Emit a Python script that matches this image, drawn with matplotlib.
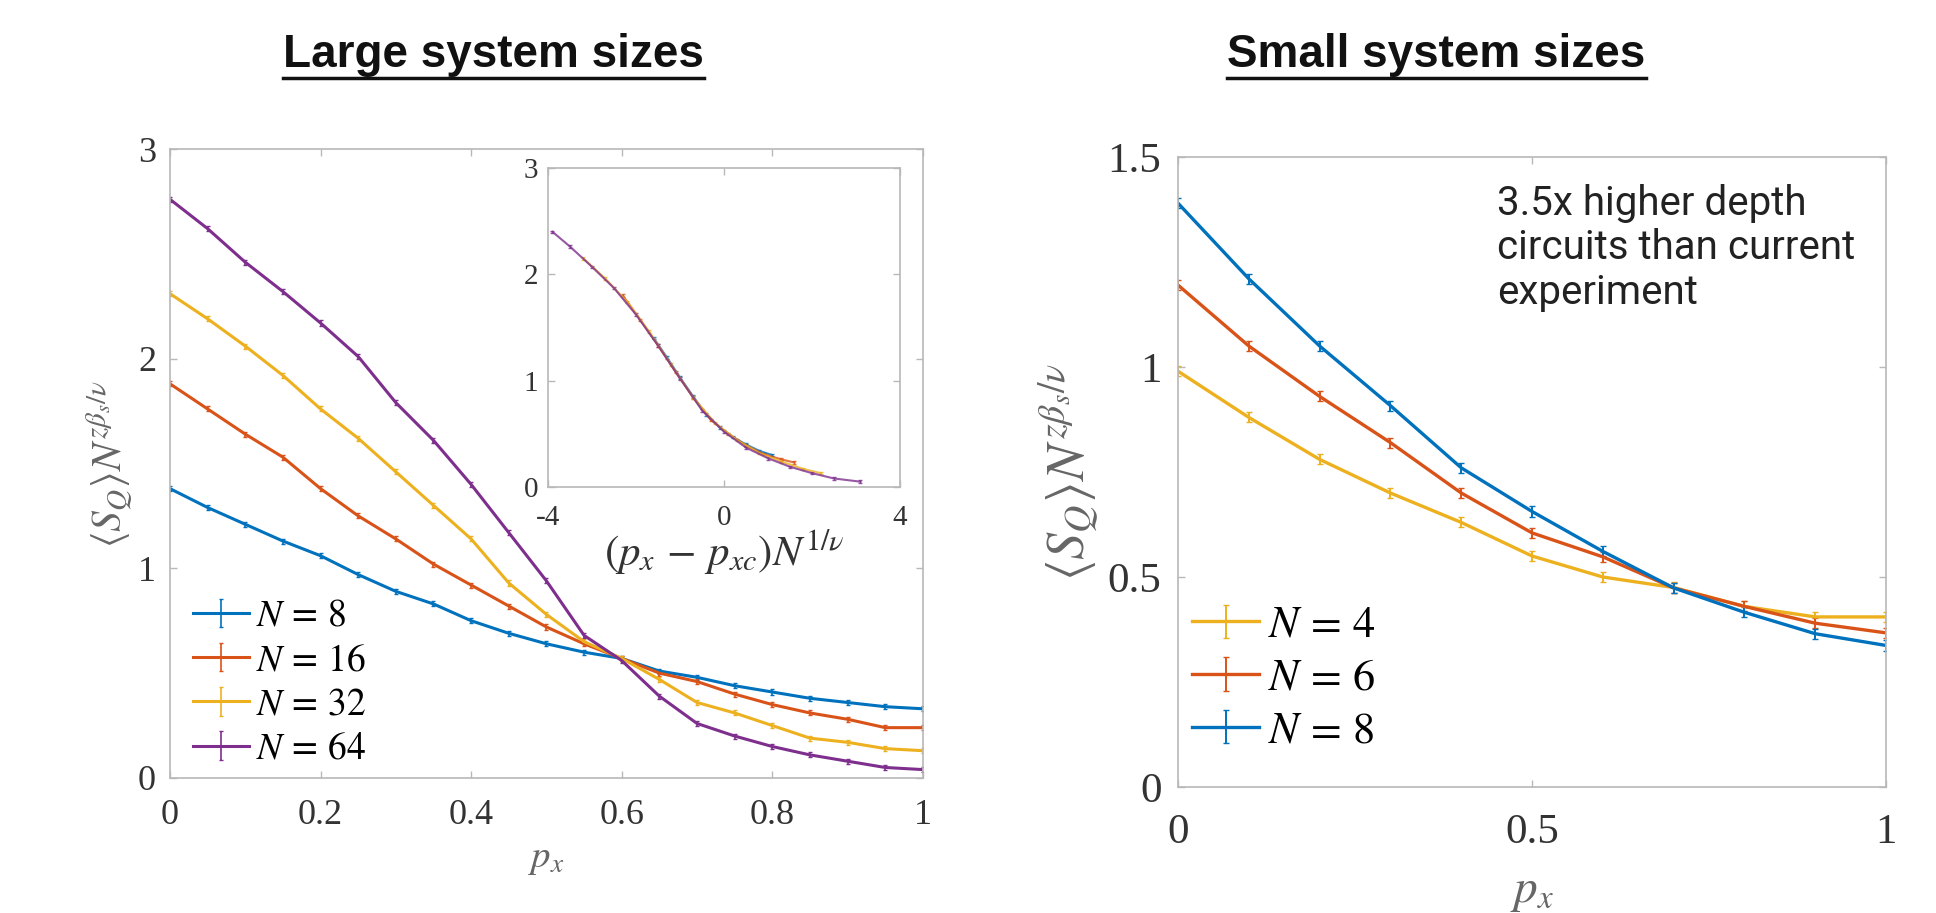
"""
Finite-size scaling of <S_Q> vs p_x: large and small system sizes
"""
import matplotlib
matplotlib.use('Agg')
import matplotlib.pyplot as plt
from matplotlib.lines import Line2D
from matplotlib.legend_handler import HandlerErrorbar
from matplotlib.container import ErrorbarContainer

plt.rcParams['font.family'] = ['Liberation Serif', 'DejaVu Serif']
plt.rcParams['mathtext.fontset'] = 'stix'
plt.rcParams['axes.unicode_minus'] = False

# MATLAB default colours
BLUE, RED, YELLOW, PURPLE = '#0072BD', '#D95319', '#EDB120', '#7E2F8E'
BOX = '#b8b8b8'
TXT = '#333333'

# ---- Large system sizes (p_x step 0.05) ----
PX_LARGE = [0.0, 0.05, 0.1, 0.15, 0.2, 0.25, 0.3, 0.35, 0.4, 0.45, 0.5,
            0.55, 0.6, 0.65, 0.7, 0.75, 0.8, 0.85, 0.9, 0.95, 1.0]
SQ_N8 = [1.38, 1.29, 1.21, 1.13, 1.06, 0.97, 0.89, 0.83, 0.75, 0.69, 0.64,
         0.60, 0.57, 0.51, 0.48, 0.44, 0.41, 0.38, 0.36, 0.34, 0.33]
SQ_N16 = [1.88, 1.76, 1.64, 1.53, 1.38, 1.25, 1.14, 1.02, 0.92, 0.82, 0.72,
          0.64, 0.57, 0.50, 0.46, 0.40, 0.35, 0.31, 0.28, 0.24, 0.24]
SQ_N32 = [2.31, 2.19, 2.06, 1.92, 1.76, 1.62, 1.46, 1.30, 1.14, 0.93, 0.78,
          0.65, 0.57, 0.47, 0.36, 0.31, 0.25, 0.19, 0.17, 0.14, 0.13]
SQ_N64 = [2.76, 2.62, 2.46, 2.32, 2.17, 2.01, 1.79, 1.61, 1.40, 1.17, 0.94,
          0.68, 0.56, 0.39, 0.26, 0.20, 0.15, 0.11, 0.08, 0.05, 0.04]
LARGE_LABELS = [r'$N\,=\,8$', r'$N\,=\,16$', r'$N\,=\,32$', r'$N\,=\,64$']

# ---- Inset: data collapse ----
INS_X_N8 = [-1.6, -1.3, -1.0, -0.7, -0.4, -0.1, 0.2, 0.5, 0.8, 1.1]
INS_Y_N8 = [1.40, 1.22, 1.03, 0.85, 0.68, 0.56, 0.47, 0.40, 0.34, 0.30]
INS_X_N16 = [-2.3, -1.9, -1.5, -1.1, -0.7, -0.3, 0.1, 0.5, 0.9, 1.3, 1.6]
INS_Y_N16 = [1.80, 1.57, 1.33, 1.08, 0.84, 0.63, 0.50, 0.39, 0.31, 0.26, 0.23]
INS_X_N32 = [-3.2, -2.7, -2.2, -1.7, -1.2, -0.7, -0.2, 0.3, 0.8, 1.3, 1.8, 2.2]
INS_Y_N32 = [2.15, 1.96, 1.74, 1.46, 1.15, 0.84, 0.60, 0.44, 0.32, 0.24, 0.17, 0.13]
INS_X_N64 = [-3.9, -3.5, -3.0, -2.5, -2.0, -1.5, -1.0, -0.5, 0.0, 0.5, 1.0,
             1.5, 2.0, 2.5, 3.1]
INS_Y_N64 = [2.40, 2.26, 2.07, 1.87, 1.62, 1.33, 1.02, 0.72, 0.52, 0.37, 0.27,
             0.19, 0.13, 0.08, 0.05]

# ---- Small system sizes (p_x step 0.1) ----
PX_SMALL = [0.0, 0.1, 0.2, 0.3, 0.4, 0.5, 0.6, 0.7, 0.8, 0.9, 1.0]
SQ_N4 = [0.99, 0.88, 0.78, 0.70, 0.63, 0.55, 0.50, 0.475, 0.43, 0.405, 0.405]
SQ_N6 = [1.195, 1.05, 0.93, 0.82, 0.70, 0.605, 0.548, 0.474, 0.43, 0.39, 0.367]
SQ_N8S = [1.39, 1.21, 1.05, 0.908, 0.76, 0.656, 0.561, 0.474, 0.416, 0.365, 0.337]
SMALL_LABELS = [r'$N\,=\,4$', r'$N\,=\,6$', r'$N\,=\,8$']

ERR = 0.012  # tiny error bars

YLABEL = r'$\langle S_Q\rangle N^{z\beta_s/\nu}$'
ERR_HANDLER = {ErrorbarContainer: HandlerErrorbar(xerr_size=0.5, yerr_size=0.38)}


def style_axes(ax, size, xpad, ypad):
    for s in ax.spines.values():
        s.set_color(BOX)
        s.set_linewidth(1.2)
    ax.tick_params(direction='in', top=True, right=True, length=5, width=1,
                   color=BOX, labelsize=size, labelcolor=TXT)
    ax.tick_params(axis='x', pad=xpad)
    ax.tick_params(axis='y', pad=ypad)


fig = plt.figure(figsize=(19.36, 9.13), dpi=100)

# ============================================================
# Left: large system sizes
# ============================================================
ax1 = fig.add_axes([0.0878, 0.1479, 0.3889, 0.6889])
for y, c, lab in zip([SQ_N8, SQ_N16, SQ_N32, SQ_N64], [BLUE, RED, YELLOW, PURPLE], LARGE_LABELS):
    ax1.errorbar(PX_LARGE, y, yerr=ERR, color=c, lw=2.2, elinewidth=1.2,
                 capsize=1.5, label=lab)
ax1.set_xlim(0, 1)
ax1.set_ylim(0, 3)
ax1.set_xticks([0, 0.2, 0.4, 0.6, 0.8, 1])
ax1.set_xticklabels(['0', '0.2', '0.4', '0.6', '0.8', '1'])
ax1.set_yticks([0, 1, 2, 3])
style_axes(ax1, 26, 15, 10)
ax1.set_ylabel(YLABEL, fontsize=30, color='#666666', labelpad=2)
ax1.set_xlabel(r'$p_x$', fontsize=28, color='#666666', labelpad=6)
ax1.legend(loc='lower left', bbox_to_anchor=(0.03, 0.018), frameon=False,
           fontsize=27, handlelength=1.5, handletextpad=0.2, labelspacing=0.26,
           borderpad=0, borderaxespad=0, handler_map=ERR_HANDLER)

# inset
ins = fig.add_axes([0.2831, 0.4666, 0.1818, 0.3494])
for x, y, c in zip([INS_X_N8, INS_X_N16, INS_X_N32, INS_X_N64],
                   [INS_Y_N8, INS_Y_N16, INS_Y_N32, INS_Y_N64],
                   [BLUE, RED, YELLOW, PURPLE]):
    ins.errorbar(x, y, yerr=ERR, color=c, lw=1.5, elinewidth=1, capsize=1.2, alpha=0.8)
ins.set_xlim(-4, 4)
ins.set_ylim(0, 3)
ins.set_xticks([-4, 0, 4])
ins.set_yticks([0, 1, 2, 3])
style_axes(ins, 21, 13, 7)
ins.set_xlabel(r'$(p_x\,-\,p_{xc})N^{1/\nu}$', fontsize=31, color=TXT, labelpad=-2)

# ============================================================
# Right: small system sizes
# ============================================================
ax2 = fig.add_axes([0.6085, 0.1380, 0.3657, 0.6900])
for y, c, lab in zip([SQ_N4, SQ_N6, SQ_N8S], [YELLOW, RED, BLUE], SMALL_LABELS):
    ax2.errorbar(PX_SMALL, y, yerr=ERR, color=c, lw=2.4, elinewidth=1.4,
                 capsize=2, label=lab)
ax2.set_xlim(0, 1)
ax2.set_ylim(0, 1.5)
ax2.set_xticks([0, 0.5, 1])
ax2.set_xticklabels(['0', '0.5', '1'])
ax2.set_yticks([0, 0.5, 1, 1.5])
ax2.set_yticklabels(['0', '0.5', '1', '1.5'])
style_axes(ax2, 31, 19, 12)
ax2.set_ylabel(YLABEL, fontsize=39, color='#666666', labelpad=4)
ax2.set_xlabel(r'$p_x$', fontsize=34, color='#666666', labelpad=14)
ax2.legend(loc='lower left', bbox_to_anchor=(0.02, 0.057), frameon=False,
           fontsize=32, handlelength=1.5, handletextpad=0.2, labelspacing=0.28,
           borderpad=0, borderaxespad=0, handler_map=ERR_HANDLER)
ax2.text(0.45, 0.957, '3.5x higher depth\ncircuits than current\nexperiment',
         transform=ax2.transAxes, family='Roboto', fontsize=29, color='#222222',
         va='top', ha='left', linespacing=1.17)

# ============================================================
# Underlined titles
# ============================================================
titles = [fig.text(0.255, 0.927, 'Large system sizes'),
          fig.text(0.742, 0.927, 'Small system sizes')]
for t in titles:
    t.set_family('Liberation Sans')
    t.set_fontweight('bold')
    t.set_fontsize(33)
    t.set_ha('center')
    t.set_va('baseline')
    t.set_color('#111111')

fig.canvas.draw()
renderer = fig.canvas.get_renderer()
inv = fig.transFigure.inverted()
for t in titles:
    bb = t.get_window_extent(renderer)
    (x0, y0), (x1, _) = inv.transform([(bb.x0, bb.y0 - 1), (bb.x1, bb.y0)])
    fig.add_artist(Line2D([x0, x1], [y0, y0], transform=fig.transFigure,
                          color='#111111', lw=2.5))

plt.savefig('out.png', dpi=100)
plt.close()
